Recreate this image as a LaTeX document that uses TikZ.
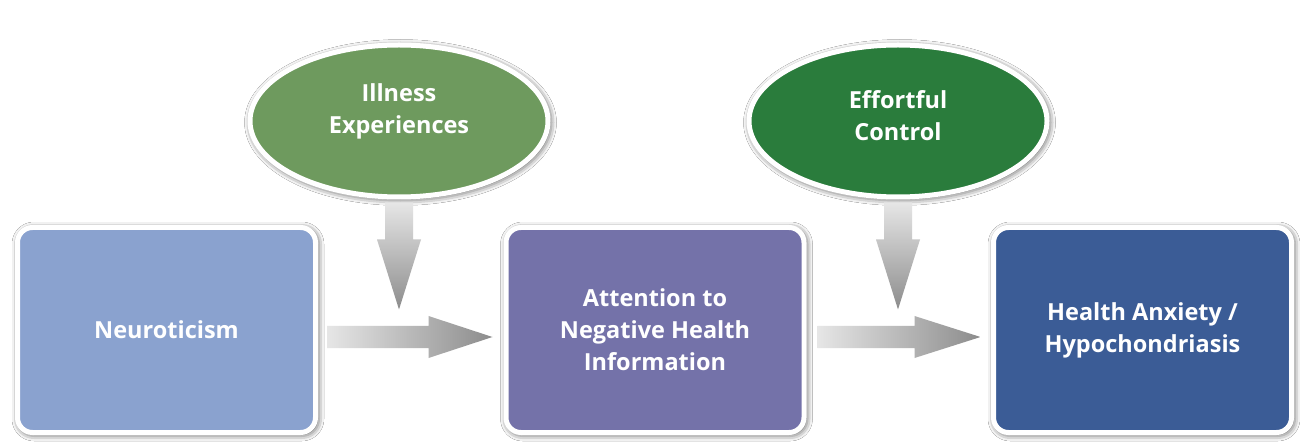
\documentclass[tikz,border=0pt]{standalone}
\usepackage{fontspec}
\setmainfont{Open Sans}
\usetikzlibrary{shapes.geometric,shadows.blur,calc}
\definecolor{boxA}{HTML}{8AA2CF}
\definecolor{boxB}{HTML}{7472A9}
\definecolor{boxC}{HTML}{3B5C96}
\definecolor{ellA}{HTML}{6E9A5E}
\definecolor{ellB}{HTML}{2A7C3C}
\definecolor{arrLight}{HTML}{E6E6E6}
\definecolor{arrDark}{HTML}{8C8C8C}
\tikzset{
  softshadow/.style={blur shadow={shadow xshift=1.5pt, shadow yshift=-1.5pt, shadow blur radius=7pt, shadow opacity=85}},
  boxnode/.style={draw=white, line width=5pt, rounded corners=15pt, minimum width=298pt, minimum height=205pt,
    text=white, align=center, font=\fontsize{23.5}{32}\selectfont\bfseries, softshadow},
  ellnode/.style={ellipse, draw=white, line width=5pt, minimum width=298pt, minimum height=152pt, inner sep=0pt,
    text=white, align=center, font=\fontsize{23.5}{32}\selectfont\bfseries, softshadow},
  harr/.style={left color=arrLight, right color=arrDark, draw=none},
  varr/.style={top color=arrLight, bottom color=arrDark, draw=none}
}
\begin{document}
\begin{tikzpicture}[x=1pt,y=-1pt]
\useasboundingbox (0,0) rectangle (1300,443);
\fill[white] (0,0) rectangle (1300,443);

\node[boxnode, fill=boxA] (b1) at (166.5,330) {Neuroticism};
\node[boxnode, fill=boxB] (b2) at (655,330) {Attention to\\Negative Health\\Information};
\node[boxnode, fill=boxC] (b3) at (1142.5,330) {Health Anxiety /\\Hypochondriasis};

\node[ellnode, fill=ellA] (e1) at (399,121) {};
\node[ellnode, fill=ellB] (e2) at (898,121) {};
\node[text=white, align=center, font=\fontsize{23.5}{32}\selectfont\bfseries] (t1) at ($(e1.center)+(0,-10)$) {Illness\\Experiences};
\node[text=white, align=center, font=\fontsize{23.5}{32}\selectfont\bfseries] (t2) at ($(e2.center)+(0,-5)$) {Effortful\\Control};

% horizontal arrows
\coordinate (h1s) at ($(b1.east)+(9,7)$);
\coordinate (h1t) at ($(b2.west)+(-11,7)$);
\shade[harr] ($(h1s)+(0,-11)$) -- ($(h1t)+(-64,-11)$) -- ($(h1t)+(-64,-21)$) -- (h1t)
  -- ($(h1t)+(-64,21)$) -- ($(h1t)+(-64,11)$) -- ($(h1s)+(0,11)$) -- cycle;

\coordinate (h2s) at ($(b2.east)+(11,7)$);
\coordinate (h2t) at ($(b3.west)+(-10.5,7)$);
\shade[harr] ($(h2s)+(0,-11)$) -- ($(h2t)+(-66,-11)$) -- ($(h2t)+(-66,-21)$) -- (h2t)
  -- ($(h2t)+(-66,21)$) -- ($(h2t)+(-66,11)$) -- ($(h2s)+(0,11)$) -- cycle;

% vertical arrows
\coordinate (v1s) at ($(e1.south)+(0,3)$);
\coordinate (v1t) at ($(e1.south)+(0,110)$);
\shade[varr] ($(v1s)+(-14,0)$) -- ($(v1t)+(-14,-70)$) -- ($(v1t)+(-22,-70)$) -- (v1t)
  -- ($(v1t)+(22,-70)$) -- ($(v1t)+(14,-70)$) -- ($(v1s)+(14,0)$) -- cycle;

\coordinate (v2s) at ($(e2.south)+(0,3)$);
\coordinate (v2t) at ($(e2.south)+(0,110)$);
\shade[varr] ($(v2s)+(-14,0)$) -- ($(v2t)+(-14,-70)$) -- ($(v2t)+(-22,-70)$) -- (v2t)
  -- ($(v2t)+(22,-70)$) -- ($(v2t)+(14,-70)$) -- ($(v2s)+(14,0)$) -- cycle;
\end{tikzpicture}
\end{document}
